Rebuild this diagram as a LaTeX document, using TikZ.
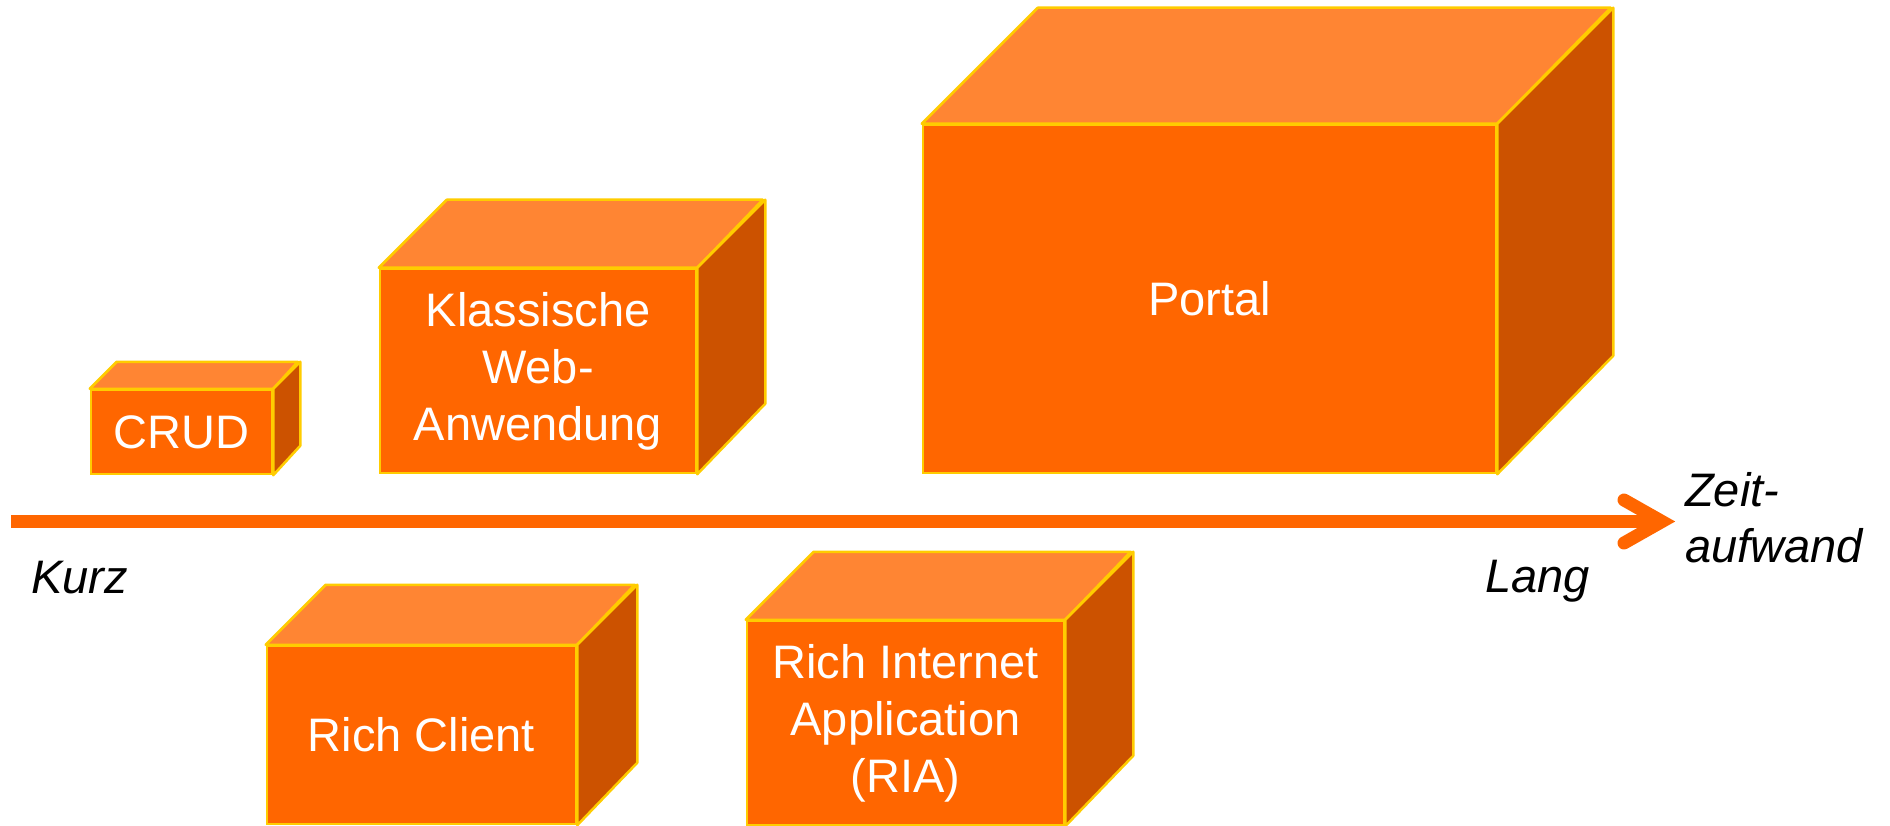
\documentclass[tikz,border=0pt]{standalone}
\usepackage{fontspec}
\setmainfont{Liberation Sans}
\definecolor{frontc}{RGB}{255,102,0}
\definecolor{topc}{RGB}{255,133,51}
\definecolor{sidec}{RGB}{204,82,0}
\definecolor{edgec}{RGB}{255,204,0}
\tikzset{
  frontbox/.style={draw=edgec, fill=frontc, line width=2.5pt, inner sep=0pt,
    text=white, align=center, font=\fontsize{47}{57}\selectfont},
  topface/.style={draw=edgec, fill=topc, line width=2.5pt, line join=round},
  sideface/.style={draw=edgec, fill=sidec, line width=2.5pt, line join=round},
  axislabel/.style={inner sep=0pt, font=\fontsize{47}{56}\selectfont\itshape, text=black},
  axisline/.style={draw=frontc, line width=13pt}
}
% #1 name, #2 cx, #3 cy, #4 w, #5 h, #6 depth, #7 text
\newcommand\mycube[7]{%
  \node[frontbox, minimum width=#4pt, minimum height=#5pt] (#1) at (#2,#3) {#7};
  \path[topface] (#1.north west) -- ++(#6,-#6) -- ++(#4,0) -- (#1.north east) -- cycle;
  \path[sideface] (#1.north east) -- ++(#6,-#6) -- ++(0,#5) -- (#1.south east) -- cycle;
}
\begin{document}
\begin{tikzpicture}[x=1pt,y=-1pt]
\useasboundingbox (0,0) rectangle (1890,826);
\mycube{crud}{181.5}{432}{181}{84}{27}{CRUD}
\mycube{web}{538}{371}{316}{204}{68}{Klassische\\Web-\\Anwendung}
\mycube{portal}{1209.5}{299}{573}{348}{116}{Portal}
\mycube{rich}{421.5}{735}{309}{178}{60}{Rich Client}
\mycube{ria}{905.5}{723}{317}{204}{68}{Rich Internet\\Application\\(RIA)}
% axis
\coordinate (axstart) at (11,521.5);
\coordinate (axend) at (1652,521.5);
\coordinate (tipup) at (1624,500);
\coordinate (tip) at (1662,521.5);
\coordinate (tipdown) at (1624,543);
\draw[axisline] (axstart) -- (axend);
\draw[axisline, line cap=round, line join=miter] (tipup) -- (tip) -- (tipdown);
\node[axislabel, anchor=base west] (kurz) at (31,593) {Kurz};
\node[axislabel, anchor=base west] (lang) at (1485,592) {Lang};
\node[axislabel, anchor=base west, align=left] (zeit) at (1685,562) {Zeit-\\aufwand};
\end{tikzpicture}
\end{document}
